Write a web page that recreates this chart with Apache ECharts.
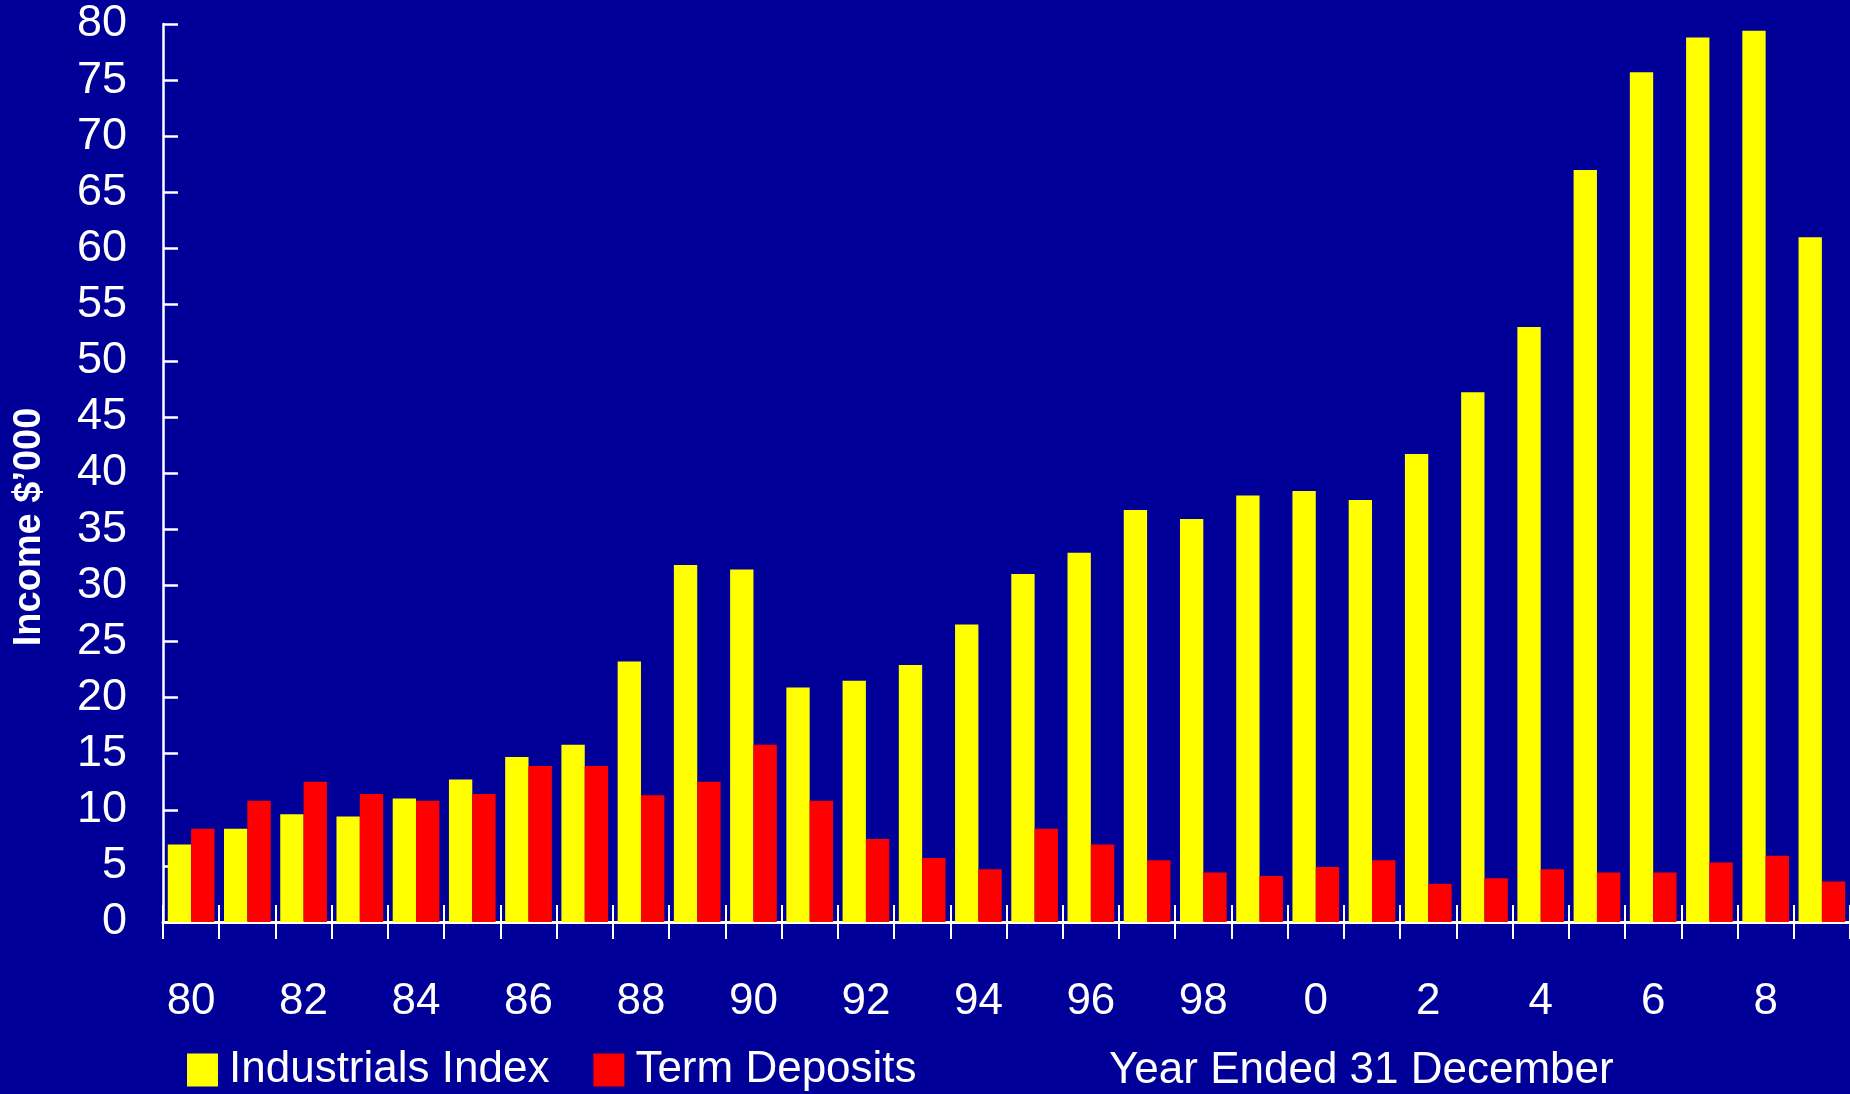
<html>
<head>
    <script type="text/javascript" src="https://cdn.jsdelivr.net/npm/echarts@6/dist/echarts.min.js"></script>
    <style>
        html, body { margin: 0; padding: 0; background: #000099; }
    </style>
</head>

<body>
<div id="main" style="width:1850px; height:1094px;"></div>

<script>
    // years 1980 - 2009, shown as two-digit labels
    var years = ['80', '81', '82', '83', '84', '85', '86', '87', '88', '89',
                 '90', '91', '92', '93', '94', '95', '96', '97', '98', '99',
                 '0', '1', '2', '3', '4', '5', '6', '7', '8', '9'];

    // income $'000
    var industrials = [6.9, 8.3, 9.6, 9.4, 11.0, 12.7, 14.7, 15.8, 23.2, 31.8,
                       31.4, 20.9, 21.5, 22.9, 26.5, 31.0, 32.9, 36.7, 35.9, 38.0,
                       38.4, 37.6, 41.7, 47.2, 53.0, 67.0, 75.7, 78.8, 79.4, 61.0];
    var deposits = [8.3, 10.8, 12.5, 11.4, 10.8, 11.4, 13.9, 13.9, 11.3, 12.5,
                    15.8, 10.8, 7.4, 5.7, 4.7, 8.3, 6.9, 5.5, 4.4, 4.1,
                    4.9, 5.5, 3.4, 3.9, 4.7, 4.4, 4.4, 5.3, 5.9, 3.6];

    var font = 'Liberation Sans';

    var myChart = echarts.init(document.getElementById('main'));
    var option = {
        backgroundColor: '#000099',
        animation: false,
        textStyle: { fontFamily: font },
        title: {
            text: 'Year Ended 31 December',
            left: 1109,
            top: 1049,
            padding: 0,
            textStyle: { color: '#fff', fontSize: 44, fontWeight: 'normal', fontFamily: font }
        },
        legend: {
            data: ['Industrials Index', 'Term Deposits'],
            left: 187,
            top: 1048,
            padding: 0,
            itemWidth: 31,
            itemHeight: 33,
            itemGap: 44,
            icon: 'rect',
            textStyle: { color: '#fff', fontSize: 44, fontFamily: font, padding: [0, 0, 0, 6] }
        },
        grid: {
            left: 163,
            top: 24,
            width: 1692,
            bottom: 172
        },
        xAxis: [
            {
                type: 'category',
                data: years,
                position: 'bottom',
                axisLine: { lineStyle: { color: '#fff', width: 3 } },
                axisTick: { show: true, interval: 0, length: 17, lineStyle: { color: '#fff', width: 2 } },
                axisLabel: { interval: 1, color: '#fff', fontSize: 44, margin: 58, fontFamily: font }
            },
            {
                // ticks above the axis line as well
                type: 'category',
                data: years,
                position: 'bottom',
                axisLine: { show: false },
                axisTick: { show: true, inside: true, interval: 0, length: 17, lineStyle: { color: '#fff', width: 2 } },
                axisLabel: { show: false }
            }
        ],
        yAxis: [
            {
                type: 'value',
                min: 0,
                max: 80,
                interval: 5,
                axisLine: { show: true, lineStyle: { color: '#fff', width: 2.5 } },
                axisTick: { show: true, inside: true, length: 15, lineStyle: { color: '#fff', width: 2.5 } },
                axisLabel: { color: '#fff', fontSize: 45, margin: 36, fontFamily: font },
                splitLine: { show: false }
            }
        ],
        graphic: [
            {
                type: 'text',
                x: 30,
                y: 527,
                rotation: Math.PI / 2,
                style: {
                    text: 'Income $’000',
                    fill: '#fff',
                    font: 'bold 38px "Liberation Sans"',
                    align: 'center',
                    verticalAlign: 'middle'
                }
            }
        ],
        series: [
            {
                name: 'Industrials Index',
                type: 'bar',
                data: industrials,
                barGap: '0%',
                barCategoryGap: '17%',
                itemStyle: { color: '#ffff00' }
            },
            {
                name: 'Term Deposits',
                type: 'bar',
                data: deposits,
                barGap: '0%',
                barCategoryGap: '17%',
                itemStyle: { color: '#ff0000' }
            }
        ]
    };

    myChart.setOption(option);
</script>

</body>
</html>
